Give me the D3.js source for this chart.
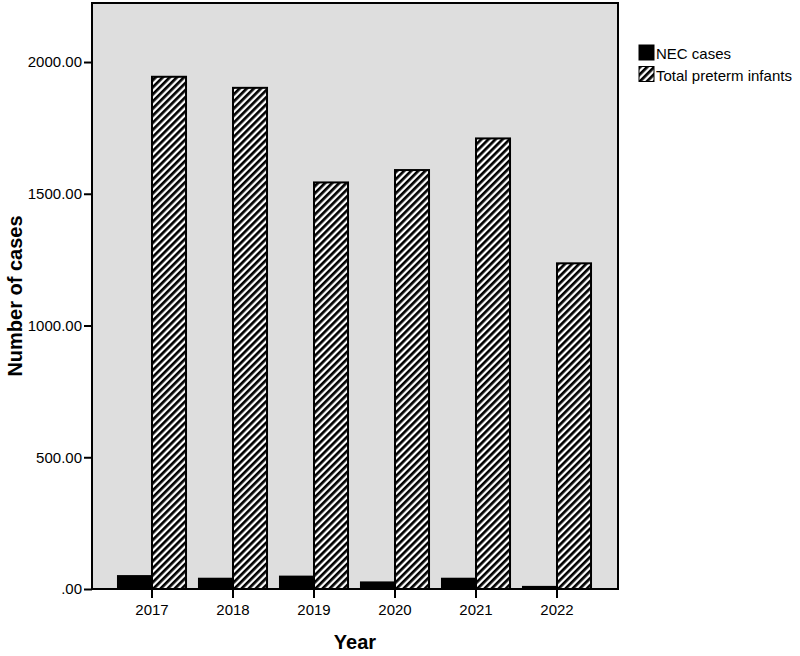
<!DOCTYPE html>
<html>
<head>
<meta charset="utf-8">
<script src="https://cdn.jsdelivr.net/npm/d3@7"></script>
<style>
  body { margin: 0; background: #fff; }
  svg { font-family: "Liberation Sans", Arial, sans-serif; }
</style>
</head>
<body>
<svg id="chart" width="800" height="656"></svg>
<script>
// values
const years = ["2017", "2018", "2019", "2020", "2021", "2022"]
const necCases = [49, 39, 47, 25, 39, 8]
const totalPreterm = [1944, 1902, 1543, 1590, 1710, 1236]
const yTicks = [0, 500, 1000, 1500, 2000]
const seriesNames = ["NEC cases", "Total preterm infants"]

const svg = d3.select("#chart")

// plot frame
const plotLeft = 92, plotRight = 618, plotTop = 3, plotBottom = 589

const y = d3.scaleLinear()
  .domain([0, 2224])
  .range([plotBottom, plotTop])

const x = d3.scaleBand()
  .domain(years)
  .range([111.5, 597.5])
  .paddingInner(0.16)
  .paddingOuter(0.08)

const xSub = d3.scaleBand()
  .domain(seriesNames)
  .range([0, x.bandwidth()])

// hatch pattern
const defs = svg.append("defs")
const pat = defs.append("pattern")
  .attr("id", "hatch")
  .attr("patternUnits", "userSpaceOnUse")
  .attr("width", 5)
  .attr("height", 5)
  .attr("patternTransform", "rotate(45)")
pat.append("rect").attr("width", 5).attr("height", 5).attr("fill", "#fff")
pat.append("rect").attr("width", 2.7).attr("height", 5).attr("fill", "#000")

svg.append("rect")
  .attr("x", plotLeft)
  .attr("y", plotTop)
  .attr("width", plotRight - plotLeft)
  .attr("height", plotBottom - plotTop)
  .attr("fill", "#dedede")

const rows = years.map((yr, i) => ({ year: yr, vals: [necCases[i], totalPreterm[i]] }))

const groups = svg.selectAll(".cluster")
  .data(rows)
  .enter().append("g")
  .attr("class", "cluster")
  .attr("transform", d => "translate(" + x(d.year) + ",0)")

groups.selectAll("rect")
  .data(d => d.vals.map((v, k) => ({ key: seriesNames[k], v: v })))
  .enter().append("rect")
  .attr("x", d => xSub(d.key))
  .attr("y", d => y(d.v))
  .attr("width", xSub.bandwidth())
  .attr("height", d => y(0) - y(d.v))
  .attr("fill", d => d.key === "NEC cases" ? "#000" : "url(#hatch)")
  .attr("stroke", "#000")
  .attr("stroke-width", 2)

// frame border
svg.append("rect")
  .attr("x", plotLeft)
  .attr("y", plotTop)
  .attr("width", plotRight - plotLeft)
  .attr("height", plotBottom - plotTop)
  .attr("fill", "none")
  .attr("stroke", "#000")
  .attr("stroke-width", 2)

// y axis
const yAxis = svg.append("g")
  .attr("transform", "translate(" + plotLeft + ",0)")
  .call(d3.axisLeft(y).tickValues(yTicks).tickSize(8).tickSizeOuter(0)
    .tickFormat(d => d === 0 ? ".00" : d3.format(".2f")(d)))
yAxis.select(".domain").remove()
yAxis.selectAll("line").attr("stroke", "#000").attr("stroke-width", 2)
yAxis.selectAll("text")
  .attr("x", -10)
  .style("font-size", "15px")
  .style("font-family", "Liberation Sans, Arial, sans-serif")
  .attr("fill", "#000")

// x axis
const xAxis = svg.append("g")
  .attr("transform", "translate(0," + plotBottom + ")")
  .call(d3.axisBottom(x).tickSize(9).tickSizeOuter(0).tickPadding(6))
xAxis.select(".domain").remove()
xAxis.selectAll("line").attr("stroke", "#000").attr("stroke-width", 2)
xAxis.selectAll("text")
  .style("font-size", "15px")
  .style("font-family", "Liberation Sans, Arial, sans-serif")
  .attr("fill", "#000")

// axis titles
svg.append("text")
  .attr("x", (plotLeft + plotRight) / 2)
  .attr("y", 649)
  .attr("text-anchor", "middle")
  .style("font-size", "20px")
  .style("font-weight", "bold")
  .text("Year")

svg.append("text")
  .attr("transform", "translate(22," + ((plotTop + plotBottom) / 2) + ") rotate(-90)")
  .attr("text-anchor", "middle")
  .style("font-size", "20px")
  .style("font-weight", "bold")
  .text("Number of cases")

// legend
const legend = svg.append("g").attr("transform", "translate(639,45)")
seriesNames.forEach((name, i) => {
  legend.append("rect")
    .attr("x", 0)
    .attr("y", i * 21.5)
    .attr("width", 15)
    .attr("height", 15)
    .attr("fill", i === 0 ? "#000" : "url(#hatch)")
    .attr("stroke", "#000")
    .attr("stroke-width", 1)
  legend.append("text")
    .attr("x", 17)
    .attr("y", i * 21.5 + 14)
    .style("font-size", "15px")
    .text(name)
})
</script>
</body>
</html>
